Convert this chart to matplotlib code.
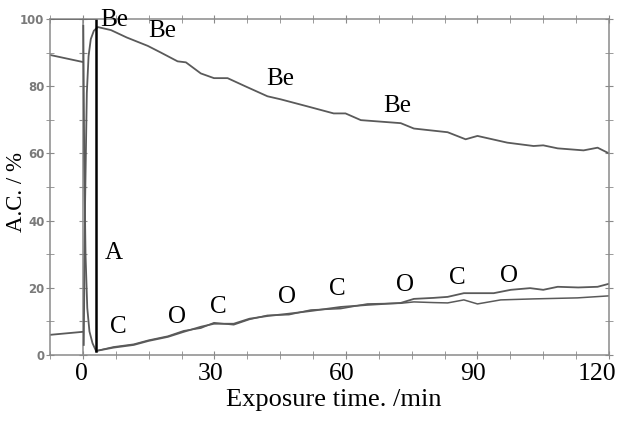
import matplotlib
matplotlib.use("Agg")
import matplotlib.pyplot as plt
from matplotlib.ticker import MultipleLocator
from matplotlib.transforms import ScaledTranslation

# ---- data ----
pre_t = [-7.5, 0]
pre_be = [89.3, 87.2]
pre_c = [6.0, 6.9]

be_t = [0.2, 0.5, 0.9, 1.3, 1.8, 2.5, 3.4, 6.4, 10, 14.8, 17.8, 21.6, 23.5, 26.9,
        29.9, 33, 37, 42.1, 45.1, 51.2, 57.2, 59.9, 63.4, 72.5, 75.5, 83.2, 87.3,
        90, 96.8, 102.8, 105, 108.3, 114.2, 117.4, 120]
be_v = [3, 45, 78, 89, 94, 96.5, 97.6, 96.7, 94.5, 92, 90, 87.4, 87.1, 83.8,
        82.4, 82.4, 80, 77, 76.1, 74, 71.9, 71.9, 69.9, 69, 67.4, 66.3, 64.2,
        65.2, 63.2, 62.2, 62.4, 61.5, 60.9, 61.7, 60]

s1_t = [0.1, 0.3, 0.6, 1.0, 1.5, 2.2, 3.0, 7, 11.6, 15, 19.4, 23, 26.9, 29.9, 34.4,
        38, 42.1, 47, 52, 58.8, 64.9, 72.5, 75.5, 80, 83.2, 86.9, 93.7, 97.6, 102,
        105, 108.3, 113, 117.4, 120]
s1_v = [98, 60, 30, 14, 7, 3.5, 1.2, 2.2, 3.0, 4.2, 5.4, 6.9, 8.4, 9.3, 9.3,
        10.8, 11.6, 12.3, 13.1, 14.3, 14.9, 15.5, 16.7, 17.0, 17.3, 18.4, 18.4,
        19.4, 19.9, 19.4, 20.3, 20.1, 20.3, 21.2]

s2_t = [3.0, 7, 11.6, 15, 19.4, 23, 26.9, 29.9, 34.4, 38, 42.1, 47, 52, 58.8,
        64.9, 72.5, 75.5, 80, 83.2, 86.9, 90, 95.3, 102.8, 112.8, 120]
s2_v = [1.2, 2.4, 3.2, 4.4, 5.6, 7.2, 8.0, 9.6, 9.0, 10.6, 11.8, 12.0, 13.4, 13.8,
        15.2, 15.4, 15.8, 15.6, 15.5, 16.4, 15.2, 16.4, 16.7, 17.0, 17.6]

marker_t = 3.0
marker_bottom = 1.2

labels = ["Be", "Be", "Be", "Be", "A", "C", "C", "C", "C", "O", "O", "O", "O"]
label_t = [7.1, 18.0, 44.9, 71.8, 7.1, 8.0, 30.8, 58.0, 85.4, 21.4, 46.5, 73.4, 97.3]
label_v = [99.8, 96.3, 82.0, 74.0, 30.4, 8.4, 14.3, 19.7, 23.0, 11.3, 17.3, 20.9, 23.6]

xtick_vals = [0, 30, 60, 90, 120]
ytick_vals = [0, 20, 40, 60, 80, 100]

# ---- figure ----
fig = plt.figure(figsize=(6.2, 4.21), dpi=100)
ax = fig.add_axes([50/620, 1-355/421, 559/620, 336/421])
serif = "Liberation Serif"
gray = "#7a7a7a"
curve = "#5a5a5a"

ax.set_xlim(-7.5, 120)
ax.set_ylim(0, 100)

for s in ax.spines.values():
    s.set_color("#8a8a8a")
    s.set_linewidth(1.1)

ax.plot(pre_t, pre_be, color=curve, lw=1.3)
ax.plot(pre_t, pre_c, color=curve, lw=1.3)
ax.plot(be_t, be_v, color=curve, lw=1.3)
ax.plot(s1_t, s1_v, color=curve, lw=1.3)
ax.plot(s2_t, s2_v, color=curve, lw=1.1)

# inner axis at t = 0
sec = ax.secondary_yaxis(0, transform=ax.transData)
sec.spines["left"].set_color("#8a8a8a")
sec.spines["left"].set_linewidth(1.1)
sec.set_yticks(list(range(0, 101, 10)))
sec.set_yticklabels([])
sec.tick_params(axis="y", direction="inout", length=6, color="#8a8a8a")

# marker bracket A
ax.plot([marker_t, marker_t], [marker_bottom, 100], color="black", lw=1.8)
ax.plot([-7.5, marker_t], [100, 100], color="black", lw=1.2)

for lab, t, v in zip(labels, label_t, label_v):
    ax.text(t, v, lab, fontsize=18, family=serif, ha="center", va="center", color="black")

ax.set_xticks(xtick_vals)
ax.set_xticklabels([str(v) for v in xtick_vals], family=serif, fontsize=18.5)
ax.xaxis.set_minor_locator(MultipleLocator(7.5))
ax.set_yticks(ytick_vals)
ax.set_yticklabels([str(v) for v in ytick_vals], fontsize=8.5, color=gray, fontweight="bold")
ax.yaxis.set_minor_locator(MultipleLocator(10))
ax.tick_params(which="both", direction="inout", length=6, color="#8a8a8a",
               top=True, right=True)
ax.tick_params(axis="x", which="major", pad=3, labelcolor="black")
ax.tick_params(axis="y", which="major", pad=1)

shifts_px = [-1, -4, -4, -4, -12]
for lbl, dx in zip(ax.get_xticklabels(), shifts_px):
    lbl.set_transform(lbl.get_transform() + ScaledTranslation(dx / 100, 0, fig.dpi_scale_trans))

ax.set_xlabel("Exposure time. /min", family=serif, fontsize=19)
ax.xaxis.label.set_va("center")
ax.xaxis.set_label_coords((334 - 50) / 559, (355 - 400) / 336)
ax.set_ylabel("A.C. / %", family=serif, fontsize=16.5)
ax.yaxis.label.set_va("center")
ax.yaxis.set_label_coords((17 - 50) / 559, (355 - 192) / 336)

fig.savefig("out.png", dpi=100)
